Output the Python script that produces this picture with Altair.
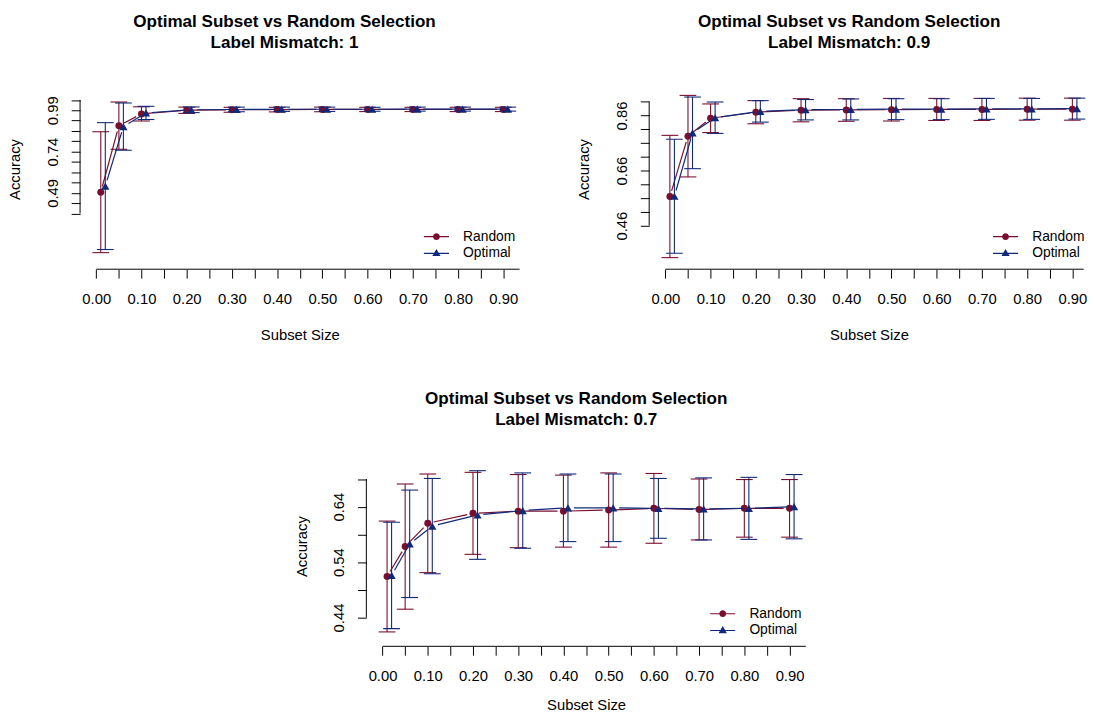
import math
import json
import altair as alt
import pandas as pd

FONT = "Liberation Sans"
RED = "#7A0E2D"
BLUE = "#0F2A7A"

# ---------------- data ----------------
series_names = ["Random", "Optimal"]
subset_sizes = [0.01, 0.05, 0.10, 0.20, 0.30, 0.40, 0.50, 0.60, 0.70, 0.80, 0.90]
optimal_offset = 0.01

x_ticks = [0.00, 0.05, 0.10, 0.15, 0.20, 0.25, 0.30, 0.35, 0.40, 0.45,
           0.50, 0.55, 0.60, 0.65, 0.70, 0.75, 0.80, 0.85, 0.90]
x_tick_labels = ["0.00", "0.10", "0.20", "0.30", "0.40", "0.50", "0.60", "0.70", "0.80", "0.90"]

# Label mismatch 1
mm1_random_mean = [0.494, 0.897, 0.968, 0.990, 0.993, 0.994, 0.995, 0.995, 0.995, 0.995, 0.995]
mm1_random_sd = [0.366, 0.143, 0.043, 0.019, 0.015, 0.014, 0.014, 0.013, 0.013, 0.013, 0.013]
mm1_optimal_mean = [0.531, 0.891, 0.974, 0.993, 0.995, 0.996, 0.996, 0.996, 0.997, 0.997, 0.997]
mm1_optimal_sd = [0.384, 0.143, 0.040, 0.017, 0.014, 0.013, 0.013, 0.012, 0.012, 0.012, 0.012]
mm1_y_ticks = [0.365, 0.4275, 0.49, 0.5525, 0.615, 0.6775, 0.74, 0.8025, 0.865, 0.9275, 0.99, 1.0525]
mm1_y_labels = ["0.49", "0.74", "0.99"]

# Label mismatch 0.9
mm09_random_mean = [0.566, 0.785, 0.850, 0.872, 0.879, 0.880, 0.881, 0.882, 0.882, 0.883, 0.883]
mm09_random_sd = [0.222, 0.148, 0.052, 0.042, 0.042, 0.041, 0.041, 0.040, 0.040, 0.040, 0.040]
mm09_optimal_mean = [0.567, 0.797, 0.852, 0.875, 0.881, 0.882, 0.883, 0.883, 0.884, 0.884, 0.885]
mm09_optimal_sd = [0.207, 0.130, 0.057, 0.039, 0.037, 0.038, 0.038, 0.038, 0.038, 0.038, 0.038]
mm09_y_ticks = [0.46, 0.51, 0.56, 0.61, 0.66, 0.71, 0.76, 0.81, 0.86, 0.91]
mm09_y_labels = ["0.46", "0.66", "0.86"]

# Label mismatch 0.7
mm07_random_mean = [0.514, 0.568, 0.610, 0.628, 0.632, 0.632, 0.634, 0.637, 0.635, 0.637, 0.637]
mm07_random_sd = [0.100, 0.113, 0.089, 0.074, 0.066, 0.065, 0.067, 0.063, 0.055, 0.052, 0.052]
mm07_optimal_mean = [0.516, 0.573, 0.605, 0.625, 0.633, 0.638, 0.638, 0.637, 0.636, 0.637, 0.640]
mm07_optimal_sd = [0.096, 0.097, 0.086, 0.080, 0.068, 0.061, 0.061, 0.054, 0.056, 0.056, 0.058]
mm07_y_ticks = [0.44, 0.49, 0.54, 0.59, 0.64, 0.69]
mm07_y_labels = ["0.44", "0.54", "0.64"]

TITLE_LINE1 = "Optimal Subset vs Random Selection"

# ---------------- styling / layout constants ----------------
GAP = 6.0          # px gap between line segments and points (R type="b")
TICK = 9
AXIS_FS = 15
LEG_FS = 14
KX = 458.1         # px per x unit
PLOT_H = 203
X_LEFT = -0.0358   # x value at the y-axis

PATH_RANDOM = ("M-2.12,-0.1L2.12,-0.1L2.12,0.1L-2.12,0.1Z"
               "M0.57,0A0.57,0.57,0,1,1,-0.57,0A0.57,0.57,0,1,1,0.57,0Z")
PATH_OPTIMAL = ("M-2.12,-0.1L2.12,-0.1L2.12,0.1L-2.12,0.1Z"
                "M0,-0.75L0.7,0.45L-0.7,0.45Z")


def label_expr(labels):
    return ("indexof(%s, format(datum.value, '.2f')) >= 0 ? format(datum.value, '.2f') : ''"
            % json.dumps(labels))


def make_panel(cfg):
    x_right = cfg["x_right"]
    xd = [X_LEFT, x_right]
    W = (xd[1] - xd[0]) * KX
    H = PLOT_H
    yd = cfg["ydom"]
    xs = alt.Scale(domain=xd, nice=False, zero=False)
    ys = alt.Scale(domain=yd, nice=False, zero=False)
    kx = KX
    ky = H / (yd[1] - yd[0])

    x_axis = alt.Axis(values=x_ticks, labelExpr=label_expr(x_tick_labels), title="Subset Size",
                      domain=False, grid=False, ticks=True, tickSize=TICK, tickWidth=1,
                      tickColor="black", labelFont=FONT, labelFontSize=AXIS_FS, labelColor="black",
                      labelBaseline="alphabetic", labelPadding=26, labelFlush=False,
                      labelOverlap=False, titleFont=FONT, titleFontSize=AXIS_FS,
                      titleFontWeight="normal", titleColor="black", titleBaseline="alphabetic",
                      titleY=cfg.get("xtitle_y", 71), titleX=(0.936 - X_LEFT) * KX / 2)
    y_axis = alt.Axis(values=cfg["yticks"], labelExpr=label_expr(cfg["ylabels"]), title="Accuracy",
                      domain=False, grid=False, ticks=True, tickSize=TICK, tickWidth=1,
                      tickColor="black", labelFont=FONT, labelFontSize=AXIS_FS, labelColor="black",
                      labelAngle=270, labelAlign="center", labelBaseline="alphabetic",
                      labelPadding=14, labelFlush=False, labelOverlap=False,
                      titleFont=FONT, titleFontSize=AXIS_FS, titleFontWeight="normal",
                      titleColor="black", titleAngle=270, titleBaseline="alphabetic",
                      titleAlign="center", titleX=-61, titleY=H / 2)

    def X(field):
        return alt.X(field, scale=xs, axis=x_axis)

    def Y(field):
        return alt.Y(field, scale=ys, axis=y_axis)

    layers = []
    # axis lines (R style: span the tick range only)
    xline_df = pd.DataFrame({"x": [x_ticks[0]], "x2": [cfg["xline_end"]], "y": [yd[0]]})
    layers.append(alt.Chart(xline_df).mark_rule(color="black", strokeWidth=1).encode(
        x=X("x:Q"), x2="x2:Q", y=Y("y:Q")))
    yline_df = pd.DataFrame({"x": [X_LEFT], "y": [cfg["yticks"][0]], "y2": [cfg["yticks"][-1]]})
    layers.append(alt.Chart(yline_df).mark_rule(color="black", strokeWidth=1).encode(
        x=X("x:Q"), y=Y("y:Q"), y2="y2:Q"))

    all_rows = []
    for name, shift, means, sds, color, shape, size in [
        ("Random", 0.0, cfg["rm"], cfg["rs"], RED, "circle", 50),
        ("Optimal", optimal_offset, cfg["om"], cfg["os"], BLUE, "triangle-up", 70),
    ]:
        xs_vals = [x + shift for x in subset_sizes]
        df = pd.DataFrame({"x": xs_vals, "mean": means,
                           "lo": [m - s for m, s in zip(means, sds)],
                           "hi": [m + s for m, s in zip(means, sds)],
                           "series": name})
        all_rows.append(df)
        caps = pd.concat([df[["x"]].assign(v=df["lo"]), df[["x"]].assign(v=df["hi"])])
        segs = []
        pts = list(zip(xs_vals, means))
        for (xa, ya), (xb, yb) in zip(pts[:-1], pts[1:]):
            L = math.hypot((xb - xa) * kx, (yb - ya) * ky)
            if L > 2 * GAP:
                f = GAP / L
                segs.append({"xs": xa + f * (xb - xa), "ys": ya + f * (yb - ya),
                             "xe": xb - f * (xb - xa), "ye": yb - f * (yb - ya)})
        seg_df = pd.DataFrame(segs)
        layers.append(alt.Chart(seg_df).mark_rule(color=color, strokeWidth=1.2).encode(
            x=X("xs:Q"), y=Y("ys:Q"), x2="xe:Q", y2="ye:Q"))
        layers.append(alt.Chart(df).mark_point(shape=shape, filled=True, size=size, opacity=1,
                                               color=color, strokeWidth=0).encode(
            x=X("x:Q"), y=Y("mean:Q")))
        layers.append(alt.Chart(df).mark_rule(color=color, strokeWidth=1.1).encode(
            x=X("x:Q"), y=Y("lo:Q"), y2="hi:Q"))
        layers.append(alt.Chart(caps).mark_tick(orient="horizontal", color=color, size=17,
                                                thickness=1.1, opacity=1).encode(
            x=X("x:Q"), y=Y("v:Q")))

    leg_df = pd.concat(all_rows)
    legend = alt.Legend(orient="none", legendX=354, legendY=163, padding=0, title=None,
                        labelFont=FONT, labelFontSize=LEG_FS, labelColor="black",
                        labelOffset=20, symbolSize=144, symbolOpacity=1, symbolStrokeWidth=0,
                        rowPadding=3)
    layers.append(alt.Chart(leg_df).mark_point(filled=True, opacity=0).encode(
        x=X("x:Q"), y=Y("mean:Q"),
        shape=alt.Shape("series:N", scale=alt.Scale(domain=series_names,
                                                    range=[PATH_RANDOM, PATH_OPTIMAL]),
                        legend=legend),
        color=alt.Color("series:N", scale=alt.Scale(domain=series_names, range=[RED, BLUE]),
                        legend=legend)))

    dx = (0.936 - X_LEFT) * KX / 2 - W / 2 + cfg["dx"]
    return alt.layer(*layers).properties(
        width=W, height=H,
        title=alt.TitleParams(text=[TITLE_LINE1, cfg["title2"]], anchor="middle", frame="group",
                              font=FONT, fontSize=17.3, fontWeight="bold", color="black",
                              baseline="alphabetic", lineHeight=21.7, offset=3.7, dx=dx))


p1 = make_panel(dict(x_right=0.936, ydom=[0.0277, 1.241], xline_end=0.936,
                     yticks=mm1_y_ticks, ylabels=mm1_y_labels,
                     rm=mm1_random_mean, rs=mm1_random_sd, om=mm1_optimal_mean, os=mm1_optimal_sd,
                     title2="Label Mismatch: 1", dx=-15.5))
p2 = make_panel(dict(x_right=0.9115, ydom=[0.302, 1.0295], xline_end=0.925,
                     yticks=mm09_y_ticks, ylabels=mm09_y_labels,
                     rm=mm09_random_mean, rs=mm09_random_sd, om=mm09_optimal_mean, os=mm09_optimal_sd,
                     title2="Label Mismatch: 0.9", dx=-20))
p3 = make_panel(dict(x_right=0.936, ydom=[0.388, 0.7497], xline_end=0.936,
                     yticks=mm07_y_ticks, ylabels=mm07_y_labels, xtitle_y=64,
                     rm=mm07_random_mean, rs=mm07_random_sd, om=mm07_optimal_mean, os=mm07_optimal_sd,
                     title2="Label Mismatch: 0.7", dx=-10))

spacer = alt.Chart(pd.DataFrame({"v": [0.0]})).mark_point(size=0, opacity=0).encode(
    x=alt.X("v:Q", axis=None), y=alt.Y("v:Q", axis=None)).properties(
    width=216.7, height=PLOT_H, view=alt.ViewBackground(fill="white", stroke=None))


def indep(c):
    return c.resolve_scale(color="independent", shape="independent").resolve_legend(
        color="independent", shape="independent")


row1 = indep(alt.hconcat(p1, p2, spacing=57.5))
row2 = indep(alt.hconcat(spacer, p3, spacing=0))
chart = indep(alt.vconcat(row1, row2, spacing=48)).properties(
    padding={"left": 0, "top": 0, "right": 0, "bottom": 0}).configure_view(stroke=None)

chart.save("out.html", embed_options={"renderer": "svg", "actions": False})
